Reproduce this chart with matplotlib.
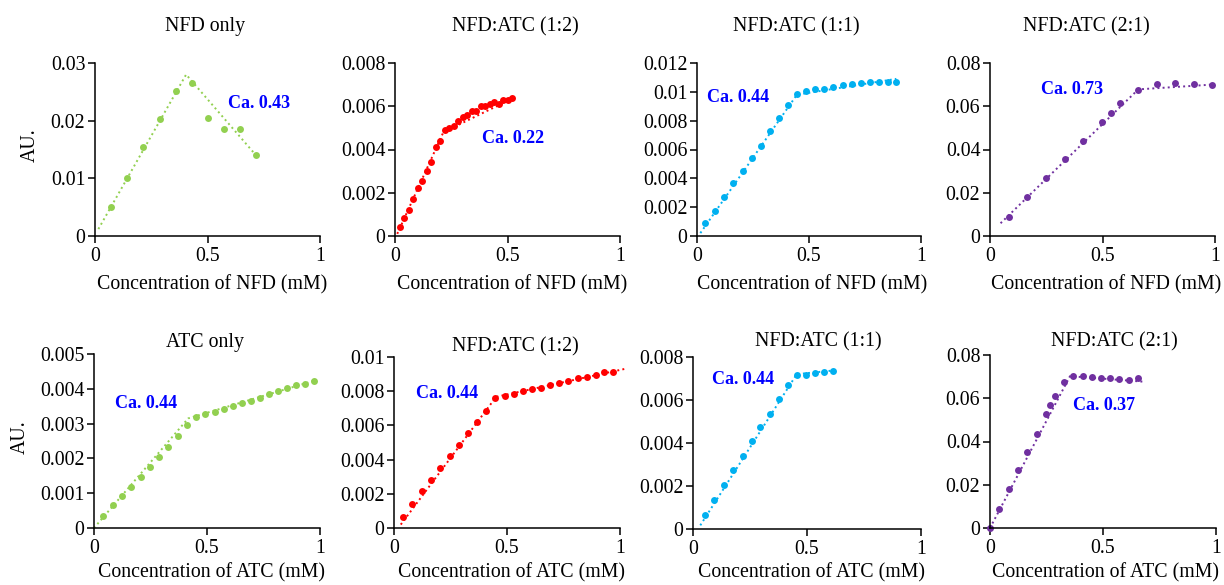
import numpy as np
import matplotlib
matplotlib.use("Agg")
import matplotlib.pyplot as plt
from matplotlib.ticker import FormatStrFormatter

# datos (mM, AU.)
nfd_only_x = [0.071, 0.144, 0.215, 0.287, 0.359, 0.433, 0.504, 0.575, 0.646, 0.716]
nfd_only_y = [0.0050, 0.0100, 0.0155, 0.0203, 0.0252, 0.0266, 0.0204, 0.0185, 0.0186, 0.0141]
nfd_only_fit_x = [0.015, 0.405, 0.72]
nfd_only_fit_y = [0.0012, 0.0280, 0.0138]

nfd_12_x = [0.02, 0.04, 0.06, 0.08, 0.10, 0.12, 0.14, 0.16, 0.18, 0.20, 0.22, 0.24, 0.26,
            0.28, 0.30, 0.32, 0.34, 0.36, 0.38, 0.40, 0.42, 0.44, 0.46, 0.48, 0.50, 0.52]
nfd_12_y = [0.00043, 0.00082, 0.0012, 0.0017, 0.0022, 0.00255, 0.0030, 0.0034, 0.0041, 0.0044,
            0.0049, 0.0050, 0.0051, 0.0053, 0.0055, 0.0056, 0.0058, 0.0058, 0.0060, 0.0060,
            0.0061, 0.0062, 0.0061, 0.0063, 0.0063, 0.0064]
nfd_12_fit_x = [0.01, 0.215, 0.53]
nfd_12_fit_y = [0.0001, 0.0048, 0.0064]

nfd_11_x = [0.037, 0.079, 0.122, 0.162, 0.204, 0.244, 0.284, 0.325, 0.365, 0.407, 0.447,
            0.487, 0.529, 0.568, 0.609, 0.651, 0.691, 0.733, 0.773, 0.811, 0.851, 0.890]
nfd_11_y = [0.00088, 0.00176, 0.00271, 0.00366, 0.00452, 0.00542, 0.00623, 0.00725, 0.00818,
            0.0091, 0.00982, 0.01005, 0.0102, 0.01022, 0.01033, 0.01045, 0.01052, 0.01063,
            0.01068, 0.0107, 0.0107, 0.01066]
nfd_11_fit_x = [0.015, 0.446, 0.89]
nfd_11_fit_y = [0.0002, 0.0098, 0.0109]

nfd_21_x = [0.083, 0.166, 0.249, 0.332, 0.415, 0.496, 0.538, 0.578, 0.659, 0.742, 0.824, 0.905, 0.987]
nfd_21_y = [0.0090, 0.0179, 0.0267, 0.0355, 0.0439, 0.0528, 0.0570, 0.0615, 0.0676, 0.0704,
            0.0706, 0.0701, 0.0698]
nfd_21_fit_x = [0.047, 0.659, 1.0]
nfd_21_fit_y = [0.0059, 0.0678, 0.0701]

atc_only_x = [0.041, 0.083, 0.124, 0.165, 0.207, 0.248, 0.289, 0.329, 0.371, 0.412, 0.453, 0.493,
              0.535, 0.575, 0.616, 0.654, 0.695, 0.735, 0.774, 0.814, 0.852, 0.892, 0.932, 0.972]
atc_only_y = [0.00034, 0.00067, 0.00091, 0.00118, 0.00147, 0.00176, 0.00205, 0.00234, 0.00263,
              0.00297, 0.0032, 0.00328, 0.00334, 0.00343, 0.0035, 0.00359, 0.00365, 0.00375,
              0.00385, 0.00395, 0.00402, 0.0041, 0.00414, 0.00422]
atc_only_fit_x = [0.0, 0.417, 0.978]
atc_only_fit_y = [0.0, 0.00315, 0.00424]

atc_12_x = [0.038, 0.080, 0.123, 0.163, 0.204, 0.246, 0.287, 0.327, 0.367, 0.409, 0.449, 0.489,
            0.529, 0.570, 0.610, 0.650, 0.692, 0.732, 0.772, 0.812, 0.852, 0.892, 0.930, 0.970]
atc_12_y = [0.00066, 0.0014, 0.00214, 0.00282, 0.00351, 0.00423, 0.00487, 0.00553, 0.00617,
            0.00683, 0.00763, 0.00771, 0.00786, 0.0080, 0.00812, 0.00819, 0.00835, 0.00847,
            0.00862, 0.0088, 0.00883, 0.00895, 0.00911, 0.00915]
atc_12_fit_x = [0.03, 0.452, 1.02]
atc_12_fit_y = [0.0002, 0.00767, 0.0093]

atc_11_x = [0.054, 0.093, 0.136, 0.177, 0.218, 0.257, 0.296, 0.336, 0.377, 0.418, 0.457,
            0.496, 0.536, 0.575, 0.616]
atc_11_y = [0.00064, 0.00133, 0.00203, 0.00276, 0.00341, 0.00409, 0.00473, 0.00536, 0.00605,
            0.0067, 0.00716, 0.00718, 0.00726, 0.0073, 0.00735]
atc_11_fit_x = [0.032, 0.455, 0.623]
atc_11_fit_y = [0.00017, 0.0072, 0.00738]

atc_21_x = [0.0, 0.041, 0.084, 0.125, 0.165, 0.206, 0.248, 0.267, 0.288, 0.329, 0.369, 0.410,
            0.450, 0.491, 0.531, 0.572, 0.614, 0.653]
atc_21_y = [0.0, 0.00865, 0.0179, 0.0266, 0.0352, 0.0436, 0.0527, 0.0568, 0.0612, 0.0676,
            0.0703, 0.0703, 0.0700, 0.0695, 0.0693, 0.0690, 0.0684, 0.0692]
atc_21_fit_x = [0.0, 0.354, 0.686]
atc_21_fit_y = [0.0, 0.0702, 0.0676]

titulos = ["NFD only", "NFD:ATC (1:2)", "NFD:ATC (1:1)", "NFD:ATC (2:1)",
           "ATC only", "NFD:ATC (1:2)", "NFD:ATC (1:1)", "NFD:ATC (2:1)"]
etiquetas_ca = ["Ca. 0.43", "Ca. 0.22", "Ca. 0.44", "Ca. 0.73",
                "Ca. 0.44", "Ca. 0.44", "Ca. 0.44", "Ca. 0.37"]
y_max = [0.03, 0.008, 0.012, 0.08, 0.005, 0.01, 0.008, 0.08]
y_paso = [0.01, 0.002, 0.002, 0.02, 0.001, 0.002, 0.002, 0.02]

verde = "#92D050"
rojo = "#FF0000"
cian = "#00B0F0"
morado = "#7030A0"

paneles = [
    (nfd_only_x, nfd_only_y, nfd_only_fit_x, nfd_only_fit_y, verde),
    (nfd_12_x, nfd_12_y, nfd_12_fit_x, nfd_12_fit_y, rojo),
    (nfd_11_x, nfd_11_y, nfd_11_fit_x, nfd_11_fit_y, cian),
    (nfd_21_x, nfd_21_y, nfd_21_fit_x, nfd_21_fit_y, morado),
    (atc_only_x, atc_only_y, atc_only_fit_x, atc_only_fit_y, verde),
    (atc_12_x, atc_12_y, atc_12_fit_x, atc_12_fit_y, rojo),
    (atc_11_x, atc_11_y, atc_11_fit_x, atc_11_fit_y, cian),
    (atc_21_x, atc_21_y, atc_21_fit_x, atc_21_fit_y, morado),
]

# cajas de los ejes en pixeles: izquierda, derecha, arriba, abajo
cajas = [(95, 320, 63, 236), (395, 620, 63, 236), (697, 921, 63, 236), (990, 1215, 63, 236),
         (94, 320, 354, 528), (394, 620, 357, 528), (693, 921, 357, 529), (990, 1216, 355, 528)]
pos_titulo = [(205, 27), (515, 27), (796, 27), (1086, 27),
              (205, 342), (515, 347), (818, 342), (1114, 342)]
pos_ca = [(259, 103), (513, 138), (738, 97), (1072, 90),
          (146, 403), (447, 393), (743, 380), (1104, 406)]
pos_xlabel = [(212, 285), (512, 285), (812, 285), (1106, 285),
              (211, 573), (512, 573), (812, 573), (1106, 573)]

W, H = 1224, 585
plt.rcParams["font.family"] = ["Liberation Serif", "DejaVu Serif"]
fig = plt.figure(figsize=(W / 100, H / 100), dpi=100)


def fx(px):
    return px / W


def fy(py):
    return 1 - py / H


for i, (x, y, fit_x, fit_y, color) in enumerate(paneles):
    l, r, t, b = cajas[i]
    ax = fig.add_axes([fx(l), fy(b), (r - l) / W, (b - t) / H])
    ax.plot(fit_x, fit_y, linestyle=":", color=color, linewidth=1.4, clip_on=False)
    ax.plot(x, y, "o", color=color, markersize=5, markeredgewidth=0, clip_on=False)
    ax.set_xlim(0, 1)
    ax.set_ylim(0, y_max[i])
    ax.set_xticks([0, 0.5, 1])
    ax.set_xticklabels(["0", "0.5", "1"])
    ax.set_yticks(np.arange(0, y_max[i] + y_paso[i] / 2, y_paso[i]))
    ax.yaxis.set_major_formatter(FormatStrFormatter("%g"))
    for lado in ["top", "right"]:
        ax.spines[lado].set_visible(False)
    for lado in ["left", "bottom"]:
        ax.spines[lado].set_linewidth(1.1)
    ax.tick_params(direction="out", length=5, width=1.1, labelsize=14.3, pad=2)
    ax.tick_params(axis="x", pad=3)

    tx, ty = pos_titulo[i]
    fig.text(fx(tx), fy(ty), titulos[i], ha="center", va="center", fontsize=14.3)
    cx, cy = pos_ca[i]
    fig.text(fx(cx), fy(cy), etiquetas_ca[i], ha="center", va="center", fontsize=13,
             fontweight="bold", color="#0000FF")
    lx, ly = pos_xlabel[i]
    texto = "Concentration of NFD (mM)" if i < 4 else "Concentration of ATC (mM)"
    fig.text(fx(lx), fy(ly), texto, ha="center", va="center", fontsize=14.3)

fig.text(fx(30), fy(145), "AU.", rotation=90, ha="center", va="center", fontsize=14.3)
fig.text(fx(20), fy(437), "AU.", rotation=90, ha="center", va="center", fontsize=14.3)

fig.savefig("out.png", dpi=100, facecolor="white")
